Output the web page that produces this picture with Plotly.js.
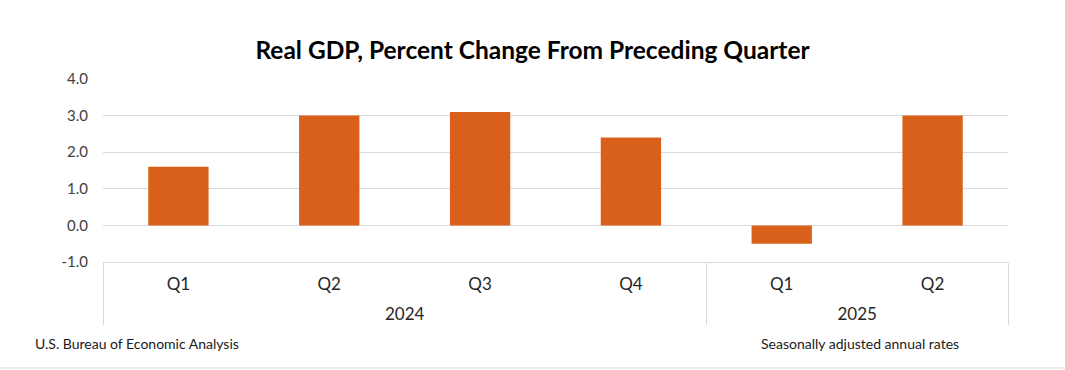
<!DOCTYPE html>
<html>
<head>
<meta charset="utf-8">
<script src="https://cdn.plot.ly/plotly-3.0.1.min.js"></script>
<style>
html,body{margin:0;padding:0;background:#fff;}
#chart{width:1065px;height:370px;}
</style>
</head>
<body>
<div id="chart"></div>
<script>
const years = ["2024", "2024", "2024", "2024", "2025", "2025"];
const quarters = ["Q1", "Q2", "Q3", "Q4", "Q1", "Q2"];
const gdpChange = [1.6, 3.0, 3.1, 2.4, -0.5, 3.0];
const yTicks = [-1, 0, 1, 2, 3, 4];
const yTickLabels = ["-1.0", "0.0", "1.0", "2.0", "3.0", "4.0"];

const FONT = "Lato, 'Open Sans', sans-serif";

// shift the outer (year) level down a little, as in the reference
const yearLabels = years.map(y => "<span style=\"baseline-shift:-14px\">" + y + "</span>");

const trace = {
  type: "bar",
  x: [yearLabels, quarters],
  y: gdpChange,
  marker: {color: "#d9601a"},
  width: 0.4,
  hoverinfo: "y"
};

const layout = {
  width: 1065,
  height: 370,
  margin: {l: 103, r: 57, t: 79, b: 108},
  paper_bgcolor: "#ffffff",
  plot_bgcolor: "#ffffff",
  showlegend: false,
  title: {
    text: "<b>Real GDP, Percent Change From Preceding Quarter</b>",
    font: {family: FONT, size: 24.5, color: "#000000"},
    x: 0.5, xanchor: "center",
    y: 0.865, yanchor: "middle"
  },
  xaxis: {
    type: "multicategory",
    showline: true,
    linecolor: "#d9d9d9",
    linewidth: 1,
    showgrid: false,
    showdividers: true,
    dividercolor: "#d9d9d9",
    dividerwidth: 1,
    ticks: "",
    ticklabelstandoff: 7,
    tickfont: {family: FONT, size: 17, color: "#262626"},
    fixedrange: true
  },
  yaxis: {
    range: [-1, 4],
    tickvals: yTicks,
    ticktext: yTickLabels,
    showgrid: true,
    gridcolor: "#d9d9d9",
    gridwidth: 1,
    zeroline: false,
    showline: false,
    ticks: "",
    ticklabelstandoff: 14,
    tickfont: {family: FONT, size: 15, color: "#404040"},
    fixedrange: true
  },
  annotations: [
    {
      text: "U.S. Bureau of Economic Analysis",
      xref: "paper", yref: "paper",
      x: -0.0773, y: -0.443,
      xanchor: "left", yanchor: "middle",
      showarrow: false,
      font: {family: FONT, size: 14, color: "#1a1a1a"}
    },
    {
      text: "Seasonally adjusted annual rates",
      xref: "paper", yref: "paper",
      x: 0.948, y: -0.443,
      xanchor: "right", yanchor: "middle",
      showarrow: false,
      font: {family: FONT, size: 14, color: "#1a1a1a"}
    }
  ],
  shapes: [
    {
      type: "line", xref: "paper", yref: "paper",
      x0: -0.1138, x1: 1.063, y0: -0.579, y1: -0.579,
      line: {color: "#d9d9d9", width: 1}
    }
  ]
};

Plotly.newPlot("chart", [trace], layout, {displayModeBar: false, staticPlot: true});
</script>
</body>
</html>
